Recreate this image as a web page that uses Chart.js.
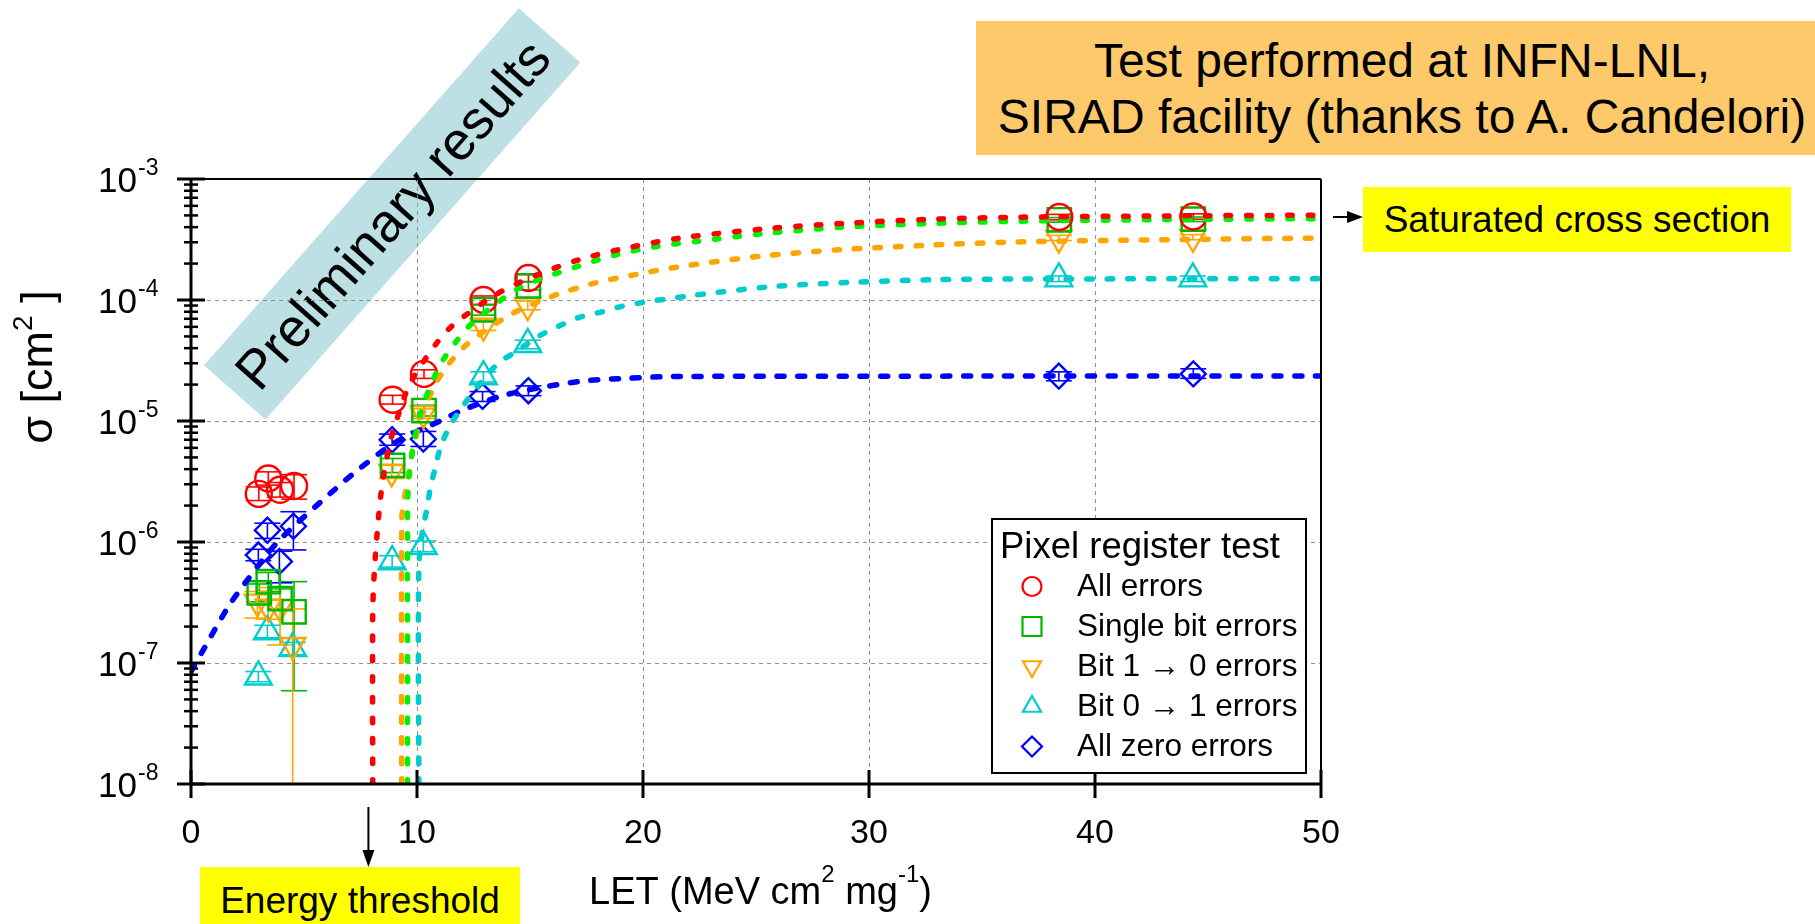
<!DOCTYPE html>
<html>
<head>
<meta charset="utf-8">
<title>Pixel register SEU cross section</title>
<script src="https://cdn.jsdelivr.net/npm/chart.js@4.4.1/dist/chart.umd.min.js"></script>
<style>
  html, body { margin: 0; padding: 0; background: #fff; }
  #wrap { position: relative; width: 1815px; height: 924px; overflow: hidden; background: #fff;
          font-family: "Liberation Sans", Arial, sans-serif; color: #000; }
  #chart { position: absolute; left: 0; top: 0; z-index: 2; }
  #banner { position: absolute; z-index: 1; left: 153.5px; top: 172.5px; width: 476px; height: 81.5px;
            background: #bce0e3; transform: rotate(-48.6deg); display: flex; align-items: center;
            justify-content: center; font-size: 54px; white-space: nowrap; }
  #facility { position: absolute; z-index: 3; left: 976px; top: 21px; width: 852px; height: 122px;
              padding-top: 12px; background: #fdc96a; font-size: 48px; line-height: 56px; text-align: center; }
  .tag { position: absolute; z-index: 3; background: #ffff00; font-size: 37px; text-align: center; white-space: nowrap; }
  #saturated { left: 1363px; top: 187px; width: 428px; height: 65px; line-height: 65px; }
  #threshold { left: 200px; top: 867px; width: 320px; height: 57px; line-height: 67px; }
</style>
</head>
<body>
<div id="wrap">
  <div id="banner">Preliminary results</div>
  <canvas id="chart" width="1815" height="924"></canvas>
  <div id="facility">Test performed at INFN-LNL,<br>SIRAD facility (thanks to A. Candelori)</div>
  <div id="saturated" class="tag">Saturated cross section</div>
  <div id="threshold" class="tag">Energy threshold</div>
</div>
<script>
const FONT = '"Liberation Sans", Arial, sans-serif';

// axes
const xTickValues = [0, 10, 20, 30, 40, 50];
const xGridValues = [10, 20, 30, 40];
const yTickExponents = [-3, -4, -5, -6, -7, -8];
const yGridExponents = [-4, -5, -6, -7];
const thresholdLET = 7.85;

// measured cross sections (LET in MeV cm2/mg, sigma in cm2) with error limits
const allLET   = [3.0, 3.42, 3.94, 4.56, 8.92, 10.31, 12.94, 14.93, 38.42, 44.35];
const allSigma = [2.5e-6, 3.35e-6, 2.7e-6, 2.9e-6, 1.5e-5, 2.45e-5, 1.0e-4, 1.52e-4, 4.85e-4, 4.9e-4];
const allLo    = [2.2e-6, 2.95e-6, 2.35e-6, 2.26e-6, 1.38e-5, 2.25e-5, 9.2e-5, 1.42e-4, 4.6e-4, 4.65e-4];
const allHi    = [2.85e-6, 3.8e-6, 3.1e-6, 3.6e-6, 1.63e-5, 2.65e-5, 1.08e-4, 1.62e-4, 5.1e-4, 5.15e-4];

const singleLET   = [3.02, 3.42, 3.94, 4.56, 8.92, 10.31, 12.94, 14.93, 38.42, 44.35];
const singleSigma = [3.8e-7, 4.7e-7, 3.4e-7, 2.65e-7, 4.3e-6, 1.22e-5, 8.3e-5, 1.31e-4, 4.6e-4, 4.65e-4];
const singleLo    = [3.2e-7, 3.9e-7, 2.8e-7, 5.9e-8, 3.75e-6, 1.1e-5, 7.5e-5, 1.21e-4, 4.4e-4, 4.45e-4];
const singleHi    = [4.5e-7, 5.6e-7, 4.1e-7, 4.7e-7, 4.9e-6, 1.35e-5, 9.1e-5, 1.41e-4, 4.8e-4, 4.85e-4];

const oneZeroLET   = [2.94, 3.42, 3.94, 4.5, 8.88, 10.28, 12.94, 14.9, 38.4, 44.33];
const oneZeroSigma = [3.2e-7, 2.9e-7, 2.9e-7, 1.4e-7, 3.8e-6, 1.15e-5, 6.1e-5, 9.0e-5, 3.25e-4, 3.3e-4];
const oneZeroLo    = [2.35e-7, 2.3e-7, 1.41e-7, 1e-8, 3.35e-6, 1.05e-5, 5.6e-5, 8.3e-5, 3.1e-4, 3.15e-4];
const oneZeroHi    = [3.9e-7, 4.2e-7, 4.2e-7, 2.8e-7, 4.3e-6, 1.26e-5, 6.7e-5, 9.8e-5, 3.42e-4, 3.47e-4];

const zeroOneLET   = [2.98, 3.38, 4.5, 8.9, 10.28, 12.94, 14.9, 38.4, 44.33];
const zeroOneSigma = [7.7e-8, 1.82e-7, 1.32e-7, 6.9e-7, 9.2e-7, 2.33e-5, 4.3e-5, 1.5e-4, 1.5e-4];
const zeroOneLo    = [7.0e-8, 1.62e-7, 1.17e-7, 6.2e-7, 8.3e-7, 2.1e-5, 3.95e-5, 1.42e-4, 1.42e-4];
const zeroOneHi    = [8.5e-8, 2.05e-7, 1.48e-7, 7.7e-7, 1.02e-6, 2.55e-5, 4.65e-5, 1.58e-4, 1.58e-4];

const allZeroLET   = [2.98, 3.38, 3.91, 4.53, 8.9, 10.28, 12.9, 14.93, 38.4, 44.35];
const allZeroSigma = [7.8e-7, 1.25e-6, 6.9e-7, 1.35e-6, 7.0e-6, 7.1e-6, 1.6e-5, 1.78e-5, 2.35e-5, 2.45e-5];
const allZeroLo    = [7.0e-7, 1.07e-6, 4.6e-7, 8.6e-7, 6.3e-6, 6.16e-6, 1.45e-5, 1.62e-5, 2.15e-5, 2.25e-5];
const allZeroHi    = [8.7e-7, 1.43e-6, 8.4e-7, 1.78e-6, 7.8e-6, 8.2e-6, 1.75e-5, 1.95e-5, 2.55e-5, 2.7e-5];

// Weibull fit curves, sampled along the plotted fits
const fitAllLET   = [8.04, 8.04, 8.11, 8.25, 8.44, 8.77, 9.03, 9.69, 10.87, 11.68, 13.6, 15.44, 17.21, 19.06, 21.7, 25.5, 29.2, 32.8, 36.5, 43, 50];
const fitAllSigma = [1e-8, 2.6e-7, 5.6e-7, 1.26e-6, 2.8e-6, 6.2e-6, 9.3e-6, 2.03e-5, 4.4e-5, 6.4e-5, 1.14e-4, 1.65e-4, 2.16e-4, 2.64e-4, 3.26e-4, 3.89e-4, 4.33e-4, 4.65e-4, 4.83e-4, 4.95e-4, 5.02e-4];

const fitSingleLET   = [9.58, 9.58, 9.61, 9.85, 10.15, 10.62, 11.09, 11.68, 12.42, 13.38, 14.26, 15.22, 17.0, 18.84, 20.6, 22.4, 25.3, 29.0, 32.6, 36.3, 43, 50];
const fitSingleSigma = [1e-8, 1.0e-6, 2.8e-6, 6.5e-6, 1.15e-5, 2.0e-5, 3.05e-5, 4.4e-5, 6.4e-5, 8.9e-5, 1.18e-4, 1.43e-4, 1.87e-4, 2.37e-4, 2.77e-4, 3.05e-4, 3.53e-4, 4.02e-4, 4.28e-4, 4.47e-4, 4.62e-4, 4.7e-4];

const fitOneZeroLET   = [9.32, 9.32, 9.35, 9.51, 9.69, 9.84, 10.3, 10.8, 11.46, 12.27, 14.12, 15.96, 17.8, 19.65, 21.5, 25.2, 28.8, 32.5, 36.0, 43, 50];
const fitOneZeroSigma = [1e-8, 1.0e-6, 1.8e-6, 2.7e-6, 4.1e-6, 6.2e-6, 1.2e-5, 2.0e-5, 3.05e-5, 4.4e-5, 7.55e-5, 1.07e-4, 1.37e-4, 1.62e-4, 1.87e-4, 2.3e-4, 2.61e-4, 2.83e-4, 3.0e-4, 3.15e-4, 3.25e-4];

const fitZeroOneLET   = [10.08, 10.08, 10.25, 10.43, 10.58, 10.8, 11.05, 11.46, 12.02, 12.79, 13.6, 14.5, 15.37, 16.25, 17.21, 18.1, 19.06, 20.0, 21.85, 25.5, 29.2, 32.8, 36.7, 50];
const fitZeroOneSigma = [1e-8, 6e-7, 1.26e-6, 1.84e-6, 2.73e-6, 4.07e-6, 6.16e-6, 9.1e-6, 1.32e-5, 2.05e-5, 3.0e-5, 3.88e-5, 5.0e-5, 6.05e-5, 7.23e-5, 7.9e-5, 8.86e-5, 9.55e-5, 1.07e-4, 1.28e-4, 1.4e-4, 1.47e-4, 1.49e-4, 1.5e-4];

const fitAllZeroLET   = [0, 0.62, 1.65, 2.39, 3.79, 5.71, 7.48, 9.1, 11.16, 12.05, 13.8, 15.74, 17.58, 19.4, 21.27, 35, 50];
const fitAllZeroSigma = [8.5e-8, 1.36e-7, 2.92e-7, 4.57e-7, 9.8e-7, 2.12e-6, 4.07e-6, 6.76e-6, 1.03e-5, 1.24e-5, 1.62e-5, 1.93e-5, 2.16e-5, 2.26e-5, 2.33e-5, 2.35e-5, 2.36e-5];

const seriesLabels = ['All errors', 'Single bit errors', 'Bit 1 \u2192 0 errors', 'Bit 0 \u2192 1 errors', 'All zero errors'];

function pairs(xs, ys) {
    return xs.map((x, i) => ({ x: x, y: ys[i] }));
}

const series = [
    { label: seriesLabels[0], color: '#ff0000', line: '#ff0000', style: 'circle', radius: 13, rot: 0, legendR: 9.5,
      x: allLET, y: allSigma, lo: allLo, hi: allHi, fx: fitAllLET, fy: fitAllSigma, dash: [4.5, 16] },
    { label: seriesLabels[1], color: '#00b800', line: '#00f000', style: 'rect', radius: 16.5, rot: 0, legendR: 13.4,
      x: singleLET, y: singleSigma, lo: singleLo, hi: singleHi, fx: fitSingleLET, fy: fitSingleSigma, dash: [4.5, 16] },
    { label: seriesLabels[2], color: '#ffa500', line: '#ffa500', style: 'triangle', radius: 14.5, rot: 180, legendR: 10.5,
      x: oneZeroLET, y: oneZeroSigma, lo: oneZeroLo, hi: oneZeroHi, fx: fitOneZeroLET, fy: fitOneZeroSigma, dash: [5.5, 15] },
    { label: seriesLabels[3], color: '#00cccc', line: '#00cccc', style: 'triangle', radius: 15.4, rot: 0, legendR: 10.5,
      x: zeroOneLET, y: zeroOneSigma, lo: zeroOneLo, hi: zeroOneHi, fx: fitZeroOneLET, fy: fitZeroOneSigma, dash: [5.5, 15] },
    { label: seriesLabels[4], color: '#0000ff', line: '#0000ff', style: 'rectRot', radius: 12.5, rot: 0, legendR: 10,
      x: allZeroLET, y: allZeroSigma, lo: allZeroLo, hi: allZeroHi, fx: fitAllZeroLET, fy: fitAllZeroSigma, dash: [7, 13.7] }
];

const datasets = [];
series.forEach(s => {
    datasets.push({
        type: 'line', label: s.label + ' fit', data: pairs(s.fx, s.fy),
        borderColor: s.line, borderWidth: 5.5, borderDash: s.dash, borderCapStyle: 'round',
        pointRadius: 0, tension: 0.3, fill: false, order: 1
    });
    datasets.push({
        type: 'scatter', label: s.label, data: pairs(s.x, s.y), showLine: false,
        pointStyle: s.style, pointRadius: s.radius, pointRotation: s.rot,
        pointBorderColor: s.color, pointBackgroundColor: 'rgba(0,0,0,0)', pointBorderWidth: 2.4, order: 2
    });
});

function drawMarker(ctx, style, x, y, r, rot) {
    ctx.beginPath();
    if (style === 'circle') {
        ctx.arc(x, y, r, 0, Math.PI * 2);
    } else if (style === 'rect') {
        const h = r * Math.SQRT1_2;
        ctx.rect(x - h, y - h, 2 * h, 2 * h);
    } else if (style === 'rectRot') {
        ctx.moveTo(x, y - r); ctx.lineTo(x + r, y); ctx.lineTo(x, y + r); ctx.lineTo(x - r, y); ctx.closePath();
    } else {
        const d = rot ? -1 : 1;
        ctx.moveTo(x, y - d * r);
        ctx.lineTo(x + r * 0.866, y + d * r / 2);
        ctx.lineTo(x - r * 0.866, y + d * r / 2);
        ctx.closePath();
    }
    ctx.stroke();
}

// text runs with superscripts: [text, size, raise]
function drawRich(ctx, parts, x, y, align) {
    let total = 0;
    parts.forEach(p => { ctx.font = p[1] + 'px ' + FONT; total += ctx.measureText(p[0]).width; });
    let cx = align === 'center' ? x - total / 2 : (align === 'right' ? x - total : x);
    ctx.textAlign = 'left';
    ctx.textBaseline = 'alphabetic';
    parts.forEach(p => {
        ctx.font = p[1] + 'px ' + FONT;
        ctx.fillText(p[0], cx, y - (p[2] || 0));
        cx += ctx.measureText(p[0]).width;
    });
}

function seg(ctx, x1, y1, x2, y2) {
    ctx.beginPath(); ctx.moveTo(x1, y1); ctx.lineTo(x2, y2); ctx.stroke();
}

const decorations = {
    id: 'decorations',
    beforeDatasetsDraw(chart) {
        const ctx = chart.ctx, a = chart.chartArea, xs = chart.scales.x, ys = chart.scales.y;
        ctx.save();
        // dashed grid
        ctx.strokeStyle = '#8f8f8f';
        ctx.lineWidth = 1;
        ctx.setLineDash([4, 4]);
        xGridValues.forEach(v => {
            const px = Math.round(xs.getPixelForValue(v)) + 0.5;
            seg(ctx, px, a.top, px, a.bottom);
        });
        yGridExponents.forEach(e => {
            const py = Math.round(ys.getPixelForValue(Math.pow(10, e))) + 0.5;
            seg(ctx, a.left, py, a.right, py);
        });
        ctx.setLineDash([]);
        // error bars
        ctx.beginPath();
        ctx.rect(a.left, a.top, a.right - a.left, a.bottom - a.top);
        ctx.clip();
        ctx.lineWidth = 1.6;
        series.forEach(s => {
            ctx.strokeStyle = s.color;
            s.x.forEach((v, i) => {
                const px = xs.getPixelForValue(v);
                const top = ys.getPixelForValue(s.hi[i]);
                const bot = ys.getPixelForValue(s.lo[i]);
                seg(ctx, px, top, px, bot);
                seg(ctx, px - 13, top, px + 13, top);
                if (s.lo[i] > 1e-8) seg(ctx, px - 13, bot, px + 13, bot);
            });
        });
        ctx.restore();
    },
    afterDatasetsDraw(chart) {
        const ctx = chart.ctx, a = chart.chartArea, xs = chart.scales.x, ys = chart.scales.y;
        ctx.save();
        ctx.strokeStyle = '#000';
        ctx.fillStyle = '#000';
        // frame
        ctx.lineWidth = 2;
        seg(ctx, a.left, a.top, a.right, a.top);
        seg(ctx, a.right, a.top, a.right, a.bottom);
        ctx.lineWidth = 3;
        seg(ctx, a.left, a.top - 1, a.left, a.bottom + 1);
        seg(ctx, a.left - 1, a.bottom, a.right + 1, a.bottom);

        // y ticks, major and minor, crossing the axis
        yTickExponents.forEach(e => {
            const py = ys.getPixelForValue(Math.pow(10, e));
            ctx.lineWidth = 3;
            seg(ctx, a.left - 14, py, a.left + 14, py);
            if (e > -8) {
                for (let m = 2; m <= 9; m++) {
                    const pm = ys.getPixelForValue(m * Math.pow(10, e - 1));
                    ctx.lineWidth = 2.5;
                    seg(ctx, a.left - 7, pm, a.left + 7, pm);
                }
            }
            ctx.font = '35px ' + FONT;
            ctx.textAlign = 'right';
            ctx.textBaseline = 'alphabetic';
            ctx.fillText('10', 137, py + 13);
            ctx.font = '23px ' + FONT;
            ctx.textAlign = 'left';
            ctx.fillText(String(e), 138, py - 4);
        });

        // x ticks
        ctx.lineWidth = 3;
        xTickValues.forEach(v => {
            const px = xs.getPixelForValue(v);
            seg(ctx, px, a.bottom - 14, px, a.bottom + 14);
            ctx.font = '34px ' + FONT;
            ctx.textAlign = 'center';
            ctx.textBaseline = 'alphabetic';
            ctx.fillText(String(v), px, 843);
        });

        // axis titles
        drawRich(ctx, [['LET (MeV cm', 38, 0], ['2', 24, 22], [' mg', 38, 0], ['-1', 24, 22], [')', 38, 0]], 589, 904, 'left');
        ctx.save();
        ctx.translate(52, 367);
        ctx.rotate(-Math.PI / 2);
        drawRich(ctx, [['\u03c3 [cm', 45, 0], ['2', 28, 20], [' ]', 45, 0]], 0, 0, 'center');
        ctx.restore();

        // arrows to the annotation tags
        const tx = xs.getPixelForValue(thresholdLET);
        ctx.lineWidth = 2;
        seg(ctx, tx, 807, tx, 852);
        ctx.beginPath(); ctx.moveTo(tx - 6, 850); ctx.lineTo(tx + 6, 850); ctx.lineTo(tx, 867); ctx.closePath(); ctx.fill();
        seg(ctx, a.right + 12, 217, a.right + 28, 217);
        ctx.beginPath(); ctx.moveTo(a.right + 26, 211); ctx.lineTo(a.right + 26, 223); ctx.lineTo(a.right + 42, 217); ctx.closePath(); ctx.fill();

        // legend box
        const lx = 992, ly = 519, lw = 314, lh = 254;
        ctx.fillStyle = '#fff';
        ctx.fillRect(lx, ly, lw, lh);
        ctx.lineWidth = 2;
        ctx.strokeRect(lx, ly, lw, lh);
        ctx.fillStyle = '#000';
        ctx.font = '36.5px ' + FONT;
        ctx.textAlign = 'left';
        ctx.fillText('Pixel register test', 1000, 558);
        series.forEach((s, i) => {
            const base = 596 + i * 40;
            ctx.strokeStyle = s.color;
            ctx.lineWidth = 2.2;
            drawMarker(ctx, s.style, 1032, base - 9.5, s.legendR, s.rot);
            ctx.fillStyle = '#000';
            ctx.font = '31.5px ' + FONT;
            ctx.fillText(s.label, 1077, base);
        });
        ctx.restore();
    }
};

new Chart(document.getElementById('chart'), {
    type: 'scatter',
    data: { datasets: datasets },
    options: {
        responsive: false,
        animation: false,
        devicePixelRatio: 1,
        layout: { padding: { left: 191, right: 494, top: 179, bottom: 140 } },
        scales: {
            x: { type: 'linear', min: 0, max: 50, ticks: { display: false }, grid: { display: false },
                 border: { display: false }, afterFit: s => { s.height = 0; } },
            y: { type: 'logarithmic', min: 1e-8, max: 1e-3, ticks: { display: false }, grid: { display: false },
                 border: { display: false }, afterFit: s => { s.width = 0; } }
        },
        plugins: { legend: { display: false }, tooltip: { enabled: false } }
    },
    plugins: [decorations]
});
</script>
</body>
</html>
